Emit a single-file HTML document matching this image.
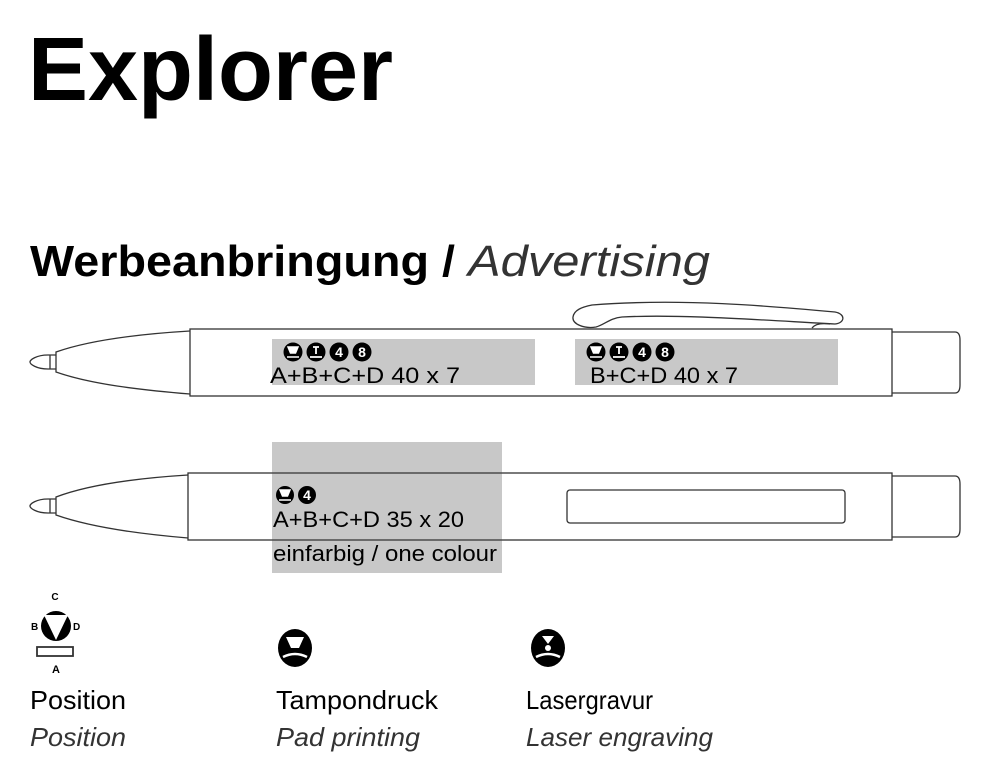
<!DOCTYPE html>
<html><head><meta charset="utf-8"><style>
html,body{margin:0;padding:0;background:#fff;width:1000px;height:774px;overflow:hidden}
svg{display:block}
text{font-family:"Liberation Sans",sans-serif}
</style></head><body>
<svg width="1000" height="774" viewBox="0 0 1000 774">
<text x="28" y="100" font-size="90" font-weight="bold" textLength="365" lengthAdjust="spacingAndGlyphs">Explorer</text>
<text x="30" y="276" font-size="44" font-weight="bold" textLength="425" lengthAdjust="spacingAndGlyphs">Werbeanbringung /</text>
<text x="468" y="276" font-size="44" font-style="italic" fill="#333" textLength="242" lengthAdjust="spacingAndGlyphs">Advertising</text>

<g fill="none" stroke="#333" stroke-width="1.3">
<path d="M596,327 C584,329 572,324 573,317 C574,310 582,307 592,305 C680,298 770,306 835,312 C846,314 845,323 835,324 C760,320 680,314 622,317 C610,318 604,325 596,327 Z"/>
<path d="M812,328 C815,324 822,323 830,324"/>
<rect x="190" y="329" width="702" height="67" fill="#fff"/>
<path d="M892,332 L955,332 Q960,332 960,340 L960,385 Q960,393 955,393 L892,393"/>
<path d="M190,331 C140,334 90,340 56,352 L56,372 C90,384 140,390 190,394"/>
<path d="M56,355 L48,355 C36,355 30,360 30,362 C30,364 36,369 48,369 L56,369 M50,355 L50,369"/>
<rect x="188" y="473" width="704" height="67"/>
<path d="M892,476 L955,476 Q960,476 960,484 L960,529 Q960,537 955,537 L892,537"/>
<path d="M188,475 C140,478 90,484 56,497 L56,515 C90,527 140,534 188,538"/>
<path d="M56,499 L48,499 C36,499 30,504 30,506 C30,508 36,513 48,513 L56,513 M50,499 L50,513"/>
<rect x="567" y="490" width="278" height="33" rx="3"/>
</g>
<rect x="272" y="339" width="263" height="46" fill="#c8c8c8"/>
<rect x="575" y="339" width="263" height="46" fill="#c8c8c8"/>
<rect x="272" y="442" width="230" height="131" fill="#c8c8c8"/>
<g stroke="#333" stroke-width="1.3"><line x1="272" y1="473" x2="502" y2="473"/><line x1="272" y1="540" x2="502" y2="540"/></g>

<g font-size="14" font-weight="bold" text-anchor="middle">
<g transform="translate(293,352)"><circle r="9.5"/><path d="M-5,-5 L5,-5 L2.5,1 L-2.5,1Z M-6,5 L6,5" stroke="#fff" fill="#fff" stroke-width="1.5"/></g>
<g transform="translate(316,352)"><circle r="9.5"/><path d="M-3,-5 L3,-5 M0,-5 L0,2 M-6,5 L6,5" stroke="#fff" stroke-width="1.8"/></g>
<g transform="translate(339,352)"><circle r="9.5"/><text y="5" fill="#fff">4</text></g>
<g transform="translate(362,352)"><circle r="9.5"/><text y="5" fill="#fff">8</text></g>
<g transform="translate(596,352)"><circle r="9.5"/><path d="M-5,-5 L5,-5 L2.5,1 L-2.5,1Z M-6,5 L6,5" stroke="#fff" fill="#fff" stroke-width="1.5"/></g>
<g transform="translate(619,352)"><circle r="9.5"/><path d="M-3,-5 L3,-5 M0,-5 L0,2 M-6,5 L6,5" stroke="#fff" stroke-width="1.8"/></g>
<g transform="translate(642,352)"><circle r="9.5"/><text y="5" fill="#fff">4</text></g>
<g transform="translate(665,352)"><circle r="9.5"/><text y="5" fill="#fff">8</text></g>
<g transform="translate(285,495)"><circle r="9"/><path d="M-5,-5 L5,-5 L2.5,1 L-2.5,1Z M-6,5 L6,5" stroke="#fff" fill="#fff" stroke-width="1.5"/></g>
<g transform="translate(307,495)"><circle r="9"/><text y="5" fill="#fff">4</text></g>
</g>
<g font-size="22">
<text x="270" y="383" textLength="190" lengthAdjust="spacingAndGlyphs">A+B+C+D 40 x 7</text>
<text x="590" y="383" textLength="148" lengthAdjust="spacingAndGlyphs">B+C+D 40 x 7</text>
<text x="273" y="527" textLength="191" lengthAdjust="spacingAndGlyphs">A+B+C+D 35 x 20</text>
<text x="273" y="561" textLength="224" lengthAdjust="spacingAndGlyphs">einfarbig / one colour</text>
</g>

<g>
<text x="55" y="600" font-size="10" font-weight="bold" text-anchor="middle">C</text>
<text x="31" y="630" font-size="10" font-weight="bold">B</text>
<text x="73" y="630" font-size="10" font-weight="bold">D</text>
<circle cx="56" cy="626" r="15"/>
<path d="M44,615 L68,615 L56,640Z" fill="#fff"/>
<rect x="37" y="647" width="36" height="9" fill="#fff" stroke="#333" stroke-width="1.8"/>
<text x="56" y="673" font-size="11" font-weight="bold" text-anchor="middle">A</text>
</g>
<g transform="translate(295,648)"><ellipse rx="17" ry="19"/><path d="M-9,-11 L9,-11 L4,0 L-4,0Z" fill="#fff"/><path d="M-12,9 Q0,3 12,9" stroke="#fff" stroke-width="2.5" fill="none"/></g>
<g transform="translate(548,648)"><ellipse rx="17" ry="19"/><path d="M-6,-12 L6,-12 L0,-4Z" fill="#fff"/><circle cy="0" r="3" fill="#fff"/><path d="M-12,9 Q0,3 12,9" stroke="#fff" stroke-width="2.5" fill="none"/></g>

<g font-size="26">
<text x="30" y="709" textLength="96" lengthAdjust="spacingAndGlyphs">Position</text>
<text x="276" y="709" textLength="162" lengthAdjust="spacingAndGlyphs">Tampondruck</text>
<text x="526" y="709" textLength="127" lengthAdjust="spacingAndGlyphs">Lasergravur</text>
</g>
<g font-size="26" font-style="italic" fill="#333">
<text x="30" y="746" textLength="96" lengthAdjust="spacingAndGlyphs">Position</text>
<text x="276" y="746" textLength="144" lengthAdjust="spacingAndGlyphs">Pad printing</text>
<text x="526" y="746" textLength="187" lengthAdjust="spacingAndGlyphs">Laser engraving</text>
</g>
</svg>
</body></html>
